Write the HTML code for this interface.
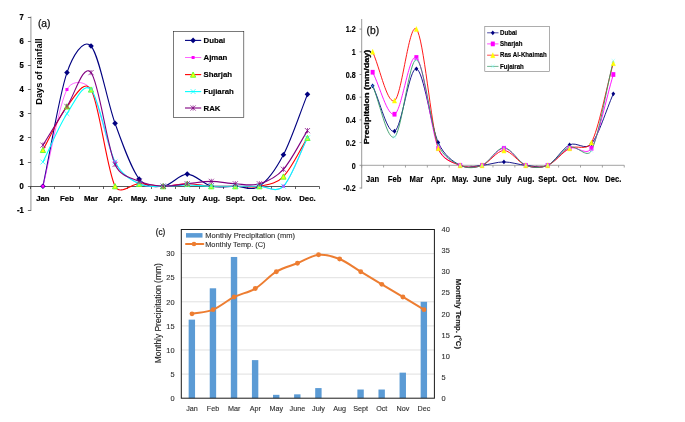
<!DOCTYPE html>
<html><head><meta charset="utf-8"><title>Rainfall charts</title>
<style>
html,body{margin:0;padding:0;background:#fff;}
body{width:685px;height:422px;overflow:hidden;font-family:"Liberation Sans",sans-serif;}
svg{display:block;will-change:transform;}
text{font-family:"Liberation Sans",sans-serif;}
.ab{font-weight:bold;font-size:8px;fill:#000;}
.bn{font-weight:bold;font-size:8px;fill:#000;stroke:#000;stroke-width:0.15px;}
.cal{fill:#111;}
.cl{font-size:7.4px;fill:#303030;stroke:#303030;stroke-width:0.12px;}
</style></head><body>
<svg width="685" height="422" viewBox="0 0 685 422">
<rect width="685" height="422" fill="#fff"/>
<g id="pa">
<line x1="30.90" y1="16.5" x2="30.90" y2="211" stroke="#adadad" stroke-width="1.3"/>
<line x1="27.90" y1="210.50" x2="30.90" y2="210.50" stroke="#444" stroke-width="0.8"/>
<text transform="translate(23.70,213.27) scale(0.93,1)" text-anchor="end" class="ab" style="font-size:8.2px;stroke:#000;stroke-width:0.25px">-1</text>
<line x1="27.90" y1="186.50" x2="30.90" y2="186.50" stroke="#444" stroke-width="0.8"/>
<text transform="translate(23.70,189.10) scale(0.93,1)" text-anchor="end" class="ab" style="font-size:8.2px;stroke:#000;stroke-width:0.25px">0</text>
<line x1="27.90" y1="162.50" x2="30.90" y2="162.50" stroke="#444" stroke-width="0.8"/>
<text transform="translate(23.70,164.93) scale(0.93,1)" text-anchor="end" class="ab" style="font-size:8.2px;stroke:#000;stroke-width:0.25px">1</text>
<line x1="27.90" y1="137.50" x2="30.90" y2="137.50" stroke="#444" stroke-width="0.8"/>
<text transform="translate(23.70,140.76) scale(0.93,1)" text-anchor="end" class="ab" style="font-size:8.2px;stroke:#000;stroke-width:0.25px">2</text>
<line x1="27.90" y1="113.50" x2="30.90" y2="113.50" stroke="#444" stroke-width="0.8"/>
<text transform="translate(23.70,116.59) scale(0.93,1)" text-anchor="end" class="ab" style="font-size:8.2px;stroke:#000;stroke-width:0.25px">3</text>
<line x1="27.90" y1="89.50" x2="30.90" y2="89.50" stroke="#444" stroke-width="0.8"/>
<text transform="translate(23.70,92.42) scale(0.93,1)" text-anchor="end" class="ab" style="font-size:8.2px;stroke:#000;stroke-width:0.25px">4</text>
<line x1="27.90" y1="65.50" x2="30.90" y2="65.50" stroke="#444" stroke-width="0.8"/>
<text transform="translate(23.70,68.25) scale(0.93,1)" text-anchor="end" class="ab" style="font-size:8.2px;stroke:#000;stroke-width:0.25px">5</text>
<line x1="27.90" y1="41.50" x2="30.90" y2="41.50" stroke="#444" stroke-width="0.8"/>
<text transform="translate(23.70,44.08) scale(0.93,1)" text-anchor="end" class="ab" style="font-size:8.2px;stroke:#000;stroke-width:0.25px">6</text>
<line x1="27.90" y1="17.50" x2="30.90" y2="17.50" stroke="#444" stroke-width="0.8"/>
<text transform="translate(23.70,19.91) scale(0.93,1)" text-anchor="end" class="ab" style="font-size:8.2px;stroke:#000;stroke-width:0.25px">7</text>
<line x1="30.90" y1="186.5" x2="319.50" y2="186.5" stroke="#222" stroke-width="0.75"/>
<line x1="30.50" y1="186.50" x2="30.50" y2="189.00" stroke="#222" stroke-width="0.7"/>
<line x1="54.50" y1="186.50" x2="54.50" y2="189.00" stroke="#222" stroke-width="0.7"/>
<line x1="79.50" y1="186.50" x2="79.50" y2="189.00" stroke="#222" stroke-width="0.7"/>
<line x1="103.50" y1="186.50" x2="103.50" y2="189.00" stroke="#222" stroke-width="0.7"/>
<line x1="127.50" y1="186.50" x2="127.50" y2="189.00" stroke="#222" stroke-width="0.7"/>
<line x1="151.50" y1="186.50" x2="151.50" y2="189.00" stroke="#222" stroke-width="0.7"/>
<line x1="175.50" y1="186.50" x2="175.50" y2="189.00" stroke="#222" stroke-width="0.7"/>
<line x1="199.50" y1="186.50" x2="199.50" y2="189.00" stroke="#222" stroke-width="0.7"/>
<line x1="223.50" y1="186.50" x2="223.50" y2="189.00" stroke="#222" stroke-width="0.7"/>
<line x1="247.50" y1="186.50" x2="247.50" y2="189.00" stroke="#222" stroke-width="0.7"/>
<line x1="271.50" y1="186.50" x2="271.50" y2="189.00" stroke="#222" stroke-width="0.7"/>
<line x1="295.50" y1="186.50" x2="295.50" y2="189.00" stroke="#222" stroke-width="0.7"/>
<line x1="319.50" y1="186.50" x2="319.50" y2="189.00" stroke="#222" stroke-width="0.7"/>
<text x="42.92" y="201.00" text-anchor="middle" class="ab" style="font-size:7.8px;stroke:#000;stroke-width:0.2px">Jan</text>
<text x="66.97" y="201.00" text-anchor="middle" class="ab" style="font-size:7.8px;stroke:#000;stroke-width:0.2px">Feb</text>
<text x="91.03" y="201.00" text-anchor="middle" class="ab" style="font-size:7.8px;stroke:#000;stroke-width:0.2px">Mar</text>
<text x="115.07" y="201.00" text-anchor="middle" class="ab" style="font-size:7.8px;stroke:#000;stroke-width:0.2px">Apr.</text>
<text x="139.12" y="201.00" text-anchor="middle" class="ab" style="font-size:7.8px;stroke:#000;stroke-width:0.2px">May.</text>
<text x="163.18" y="201.00" text-anchor="middle" class="ab" style="font-size:7.8px;stroke:#000;stroke-width:0.2px">June</text>
<text x="187.23" y="201.00" text-anchor="middle" class="ab" style="font-size:7.8px;stroke:#000;stroke-width:0.2px">July</text>
<text x="211.28" y="201.00" text-anchor="middle" class="ab" style="font-size:7.8px;stroke:#000;stroke-width:0.2px">Aug.</text>
<text x="235.33" y="201.00" text-anchor="middle" class="ab" style="font-size:7.8px;stroke:#000;stroke-width:0.2px">Sept.</text>
<text x="259.38" y="201.00" text-anchor="middle" class="ab" style="font-size:7.8px;stroke:#000;stroke-width:0.2px">Oct.</text>
<text x="283.43" y="201.00" text-anchor="middle" class="ab" style="font-size:7.8px;stroke:#000;stroke-width:0.2px">Nov.</text>
<text x="307.47" y="201.00" text-anchor="middle" class="ab" style="font-size:7.8px;stroke:#000;stroke-width:0.2px">Dec.</text>
<text x="37.9" y="26.6" style="font-size:10.3px;stroke:#111;stroke-width:0.25px" class="cal">(a)</text>
<text transform="translate(42.1,71.55) rotate(-90)" text-anchor="middle" class="ab" style="font-size:9.9px" textLength="66.5" lengthAdjust="spacingAndGlyphs">Days of rainfall</text>
<path d="M42.92,186.20 C50.94,148.33 58.96,95.97 66.97,72.60 C72.21,57.34 83.01,37.55 91.03,46.01 C99.04,54.47 107.06,101.20 115.07,123.36 C123.09,145.51 131.11,168.48 139.12,178.95 C146.00,187.93 155.16,187.01 163.18,186.20 C171.19,185.39 179.21,174.11 187.23,174.11 C195.24,174.11 203.26,184.19 211.28,186.20 C219.29,188.21 227.31,186.20 235.33,186.20 C243.34,186.20 251.36,191.44 259.38,186.20 C267.39,180.96 275.41,170.09 283.43,154.78 C291.44,139.47 299.46,114.50 307.47,94.35" fill="none" stroke="#000080" stroke-width="1.1" stroke-linejoin="round"/>
<path d="M42.92,186.20 C50.94,153.97 58.96,105.63 66.97,89.52 C71.80,79.83 85.04,80.50 91.03,89.52 C99.04,101.60 107.06,146.32 115.07,162.03 C121.71,175.03 131.11,179.75 139.12,183.78 C147.14,187.81 155.16,186.20 163.18,186.20 C171.19,186.20 179.21,183.78 187.23,183.78 C195.24,183.78 203.26,185.80 211.28,186.20 C219.29,186.60 227.31,186.20 235.33,186.20 C243.34,186.20 251.36,186.20 259.38,186.20 C267.39,186.20 275.79,193.87 283.43,186.20 C291.44,178.14 299.46,153.97 307.47,137.86" fill="none" stroke="#ff00ff" stroke-width="0.6" stroke-linejoin="round"/>
<path d="M42.92,149.94 C50.94,135.44 58.96,116.51 66.97,106.44 C74.99,96.37 84.19,78.19 91.03,89.52 C99.04,102.81 107.06,170.49 115.07,186.20 C120.02,195.89 131.11,183.78 139.12,183.78 C147.14,183.78 155.16,186.20 163.18,186.20 C171.19,186.20 179.21,183.78 187.23,183.78 C195.24,183.78 203.26,185.80 211.28,186.20 C219.29,186.60 227.31,186.20 235.33,186.20 C243.34,186.20 251.36,187.81 259.38,186.20 C267.39,184.59 275.41,184.59 283.43,176.53 C291.44,168.48 299.46,150.75 307.47,137.86" fill="none" stroke="#ff0000" stroke-width="1.1" stroke-linejoin="round"/>
<path d="M42.92,162.03 C50.94,145.92 58.96,125.77 66.97,113.69 C74.99,101.60 83.01,81.46 91.03,89.52 C99.04,97.58 107.06,146.32 115.07,162.03 C121.71,175.03 131.11,179.75 139.12,183.78 C147.14,187.81 155.16,186.00 163.18,186.20 C171.19,186.40 179.21,184.99 187.23,184.99 C195.24,184.99 203.26,186.00 211.28,186.20 C219.29,186.40 227.31,186.20 235.33,186.20 C243.34,186.20 251.36,186.20 259.38,186.20 C267.39,186.20 275.79,193.87 283.43,186.20 C291.44,178.14 299.46,153.97 307.47,137.86" fill="none" stroke="#00ffff" stroke-width="1.1" stroke-linejoin="round"/>
<path d="M42.92,145.11 C50.94,132.22 58.96,118.52 66.97,106.44 C74.99,94.35 83.01,62.93 91.03,72.60 C99.04,82.27 107.06,146.32 115.07,164.45 C120.43,176.55 131.11,177.74 139.12,181.37 C147.14,184.99 155.16,185.80 163.18,186.20 C171.19,186.60 179.21,184.59 187.23,183.78 C195.24,182.98 203.26,181.37 211.28,181.37 C219.29,181.37 227.31,183.38 235.33,183.78 C243.34,184.19 251.36,186.20 259.38,183.78 C267.39,181.37 275.41,178.14 283.43,169.28 C291.44,160.42 299.46,143.50 307.47,130.61" fill="none" stroke="#800080" stroke-width="1.1" stroke-linejoin="round"/>
<path d="M42.92,183.40 l2.80,2.80 l-2.80,2.80 l-2.80,-2.80 z" fill="#000080"/>
<path d="M66.97,69.80 l2.80,2.80 l-2.80,2.80 l-2.80,-2.80 z" fill="#000080"/>
<path d="M91.03,43.21 l2.80,2.80 l-2.80,2.80 l-2.80,-2.80 z" fill="#000080"/>
<path d="M115.07,120.56 l2.80,2.80 l-2.80,2.80 l-2.80,-2.80 z" fill="#000080"/>
<path d="M139.12,176.15 l2.80,2.80 l-2.80,2.80 l-2.80,-2.80 z" fill="#000080"/>
<path d="M163.18,183.40 l2.80,2.80 l-2.80,2.80 l-2.80,-2.80 z" fill="#000080"/>
<path d="M187.23,171.31 l2.80,2.80 l-2.80,2.80 l-2.80,-2.80 z" fill="#000080"/>
<path d="M211.28,183.40 l2.80,2.80 l-2.80,2.80 l-2.80,-2.80 z" fill="#000080"/>
<path d="M235.33,183.40 l2.80,2.80 l-2.80,2.80 l-2.80,-2.80 z" fill="#000080"/>
<path d="M259.38,183.40 l2.80,2.80 l-2.80,2.80 l-2.80,-2.80 z" fill="#000080"/>
<path d="M283.43,151.98 l2.80,2.80 l-2.80,2.80 l-2.80,-2.80 z" fill="#000080"/>
<path d="M307.47,91.55 l2.80,2.80 l-2.80,2.80 l-2.80,-2.80 z" fill="#000080"/>
<rect x="41.42" y="184.70" width="3.00" height="3.00" fill="#ff00ff"/>
<rect x="65.47" y="88.02" width="3.00" height="3.00" fill="#ff00ff"/>
<rect x="89.53" y="88.02" width="3.00" height="3.00" fill="#ff00ff"/>
<rect x="113.57" y="160.53" width="3.00" height="3.00" fill="#ff00ff"/>
<rect x="137.62" y="182.28" width="3.00" height="3.00" fill="#ff00ff"/>
<rect x="161.68" y="184.70" width="3.00" height="3.00" fill="#ff00ff"/>
<rect x="185.73" y="182.28" width="3.00" height="3.00" fill="#ff00ff"/>
<rect x="209.78" y="184.70" width="3.00" height="3.00" fill="#ff00ff"/>
<rect x="233.83" y="184.70" width="3.00" height="3.00" fill="#ff00ff"/>
<rect x="257.88" y="184.70" width="3.00" height="3.00" fill="#ff00ff"/>
<rect x="281.93" y="184.70" width="3.00" height="3.00" fill="#ff00ff"/>
<rect x="305.97" y="136.36" width="3.00" height="3.00" fill="#ff00ff"/>
<path d="M42.92,147.34 L45.52,152.54 L40.32,152.54 z" fill="#ffff00" stroke="#66ff33" stroke-width="1.0"/>
<path d="M66.97,103.84 L69.57,109.04 L64.38,109.04 z" fill="#ffff00" stroke="#66ff33" stroke-width="1.0"/>
<path d="M91.03,86.92 L93.62,92.12 L88.43,92.12 z" fill="#ffff00" stroke="#66ff33" stroke-width="1.0"/>
<path d="M115.07,183.60 L117.67,188.80 L112.47,188.80 z" fill="#ffff00" stroke="#66ff33" stroke-width="1.0"/>
<path d="M139.12,181.18 L141.72,186.38 L136.53,186.38 z" fill="#ffff00" stroke="#66ff33" stroke-width="1.0"/>
<path d="M163.18,183.60 L165.78,188.80 L160.58,188.80 z" fill="#ffff00" stroke="#66ff33" stroke-width="1.0"/>
<path d="M187.23,181.18 L189.83,186.38 L184.63,186.38 z" fill="#ffff00" stroke="#66ff33" stroke-width="1.0"/>
<path d="M211.28,183.60 L213.88,188.80 L208.68,188.80 z" fill="#ffff00" stroke="#66ff33" stroke-width="1.0"/>
<path d="M235.33,183.60 L237.93,188.80 L232.73,188.80 z" fill="#ffff00" stroke="#66ff33" stroke-width="1.0"/>
<path d="M259.38,183.60 L261.98,188.80 L256.77,188.80 z" fill="#ffff00" stroke="#66ff33" stroke-width="1.0"/>
<path d="M283.43,173.93 L286.03,179.13 L280.82,179.13 z" fill="#ffff00" stroke="#66ff33" stroke-width="1.0"/>
<path d="M307.47,135.26 L310.07,140.46 L304.87,140.46 z" fill="#ffff00" stroke="#66ff33" stroke-width="1.0"/>
<path d="M40.52,159.63 L45.32,164.43 M40.52,164.43 L45.32,159.63" stroke="#00ffff" stroke-width="0.7" fill="none"/>
<path d="M64.57,111.29 L69.38,116.09 M64.57,116.09 L69.38,111.29" stroke="#00ffff" stroke-width="0.7" fill="none"/>
<path d="M88.62,87.12 L93.43,91.92 M88.62,91.92 L93.43,87.12" stroke="#00ffff" stroke-width="0.7" fill="none"/>
<path d="M112.67,159.63 L117.47,164.43 M112.67,164.43 L117.47,159.63" stroke="#00ffff" stroke-width="0.7" fill="none"/>
<path d="M136.72,181.38 L141.53,186.18 M136.72,186.18 L141.53,181.38" stroke="#00ffff" stroke-width="0.7" fill="none"/>
<path d="M160.78,183.80 L165.58,188.60 M160.78,188.60 L165.58,183.80" stroke="#00ffff" stroke-width="0.7" fill="none"/>
<path d="M184.83,182.59 L189.63,187.39 M184.83,187.39 L189.63,182.59" stroke="#00ffff" stroke-width="0.7" fill="none"/>
<path d="M208.88,183.80 L213.68,188.60 M208.88,188.60 L213.68,183.80" stroke="#00ffff" stroke-width="0.7" fill="none"/>
<path d="M232.93,183.80 L237.73,188.60 M232.93,188.60 L237.73,183.80" stroke="#00ffff" stroke-width="0.7" fill="none"/>
<path d="M256.98,183.80 L261.77,188.60 M256.98,188.60 L261.77,183.80" stroke="#00ffff" stroke-width="0.7" fill="none"/>
<path d="M281.03,183.80 L285.82,188.60 M281.03,188.60 L285.82,183.80" stroke="#00ffff" stroke-width="0.7" fill="none"/>
<path d="M305.07,135.46 L309.87,140.26 M305.07,140.26 L309.87,135.46" stroke="#00ffff" stroke-width="0.7" fill="none"/>
<path d="M40.32,142.51 L45.52,147.71 M40.32,147.71 L45.52,142.51 M42.92,142.51 L42.92,147.71" stroke="#800080" stroke-width="0.7" fill="none"/>
<path d="M64.38,103.84 L69.57,109.04 M64.38,109.04 L69.57,103.84 M66.97,103.84 L66.97,109.04" stroke="#800080" stroke-width="0.7" fill="none"/>
<path d="M88.43,70.00 L93.62,75.20 M88.43,75.20 L93.62,70.00 M91.03,70.00 L91.03,75.20" stroke="#800080" stroke-width="0.7" fill="none"/>
<path d="M112.47,161.85 L117.67,167.05 M112.47,167.05 L117.67,161.85 M115.07,161.85 L115.07,167.05" stroke="#800080" stroke-width="0.7" fill="none"/>
<path d="M136.53,178.77 L141.72,183.97 M136.53,183.97 L141.72,178.77 M139.12,178.77 L139.12,183.97" stroke="#800080" stroke-width="0.7" fill="none"/>
<path d="M160.58,183.60 L165.78,188.80 M160.58,188.80 L165.78,183.60 M163.18,183.60 L163.18,188.80" stroke="#800080" stroke-width="0.7" fill="none"/>
<path d="M184.63,181.18 L189.83,186.38 M184.63,186.38 L189.83,181.18 M187.23,181.18 L187.23,186.38" stroke="#800080" stroke-width="0.7" fill="none"/>
<path d="M208.68,178.77 L213.88,183.97 M208.68,183.97 L213.88,178.77 M211.28,178.77 L211.28,183.97" stroke="#800080" stroke-width="0.7" fill="none"/>
<path d="M232.73,181.18 L237.93,186.38 M232.73,186.38 L237.93,181.18 M235.33,181.18 L235.33,186.38" stroke="#800080" stroke-width="0.7" fill="none"/>
<path d="M256.77,181.18 L261.98,186.38 M256.77,186.38 L261.98,181.18 M259.38,181.18 L259.38,186.38" stroke="#800080" stroke-width="0.7" fill="none"/>
<path d="M280.82,166.68 L286.03,171.88 M280.82,171.88 L286.03,166.68 M283.43,166.68 L283.43,171.88" stroke="#800080" stroke-width="0.7" fill="none"/>
<path d="M304.87,128.01 L310.07,133.21 M304.87,133.21 L310.07,128.01 M307.47,128.01 L307.47,133.21" stroke="#800080" stroke-width="0.7" fill="none"/>
<rect x="173.4" y="31.6" width="70.4" height="85.9" fill="#fff" stroke="#222" stroke-width="0.6"/>
<line x1="185" y1="40.40" x2="201.2" y2="40.40" stroke="#000080" stroke-width="1.1"/>
<path d="M193.10,37.60 l2.80,2.80 l-2.80,2.80 l-2.80,-2.80 z" fill="#000080"/>
<text x="203.5" y="43.20" class="ab" style="font-size:7.8px;stroke:#000;stroke-width:0.15px">Dubai</text>
<line x1="185" y1="57.50" x2="201.2" y2="57.50" stroke="#ff00ff" stroke-width="0.6"/>
<rect x="191.60" y="56.00" width="3.00" height="3.00" fill="#ff00ff"/>
<text x="203.5" y="60.30" class="ab" style="font-size:7.8px;stroke:#000;stroke-width:0.15px">Ajman</text>
<line x1="185" y1="74.60" x2="201.2" y2="74.60" stroke="#ff0000" stroke-width="1.1"/>
<path d="M193.10,72.00 L195.70,77.20 L190.50,77.20 z" fill="#ffff00" stroke="#66ff33" stroke-width="1.0"/>
<text x="203.5" y="77.40" class="ab" style="font-size:7.8px;stroke:#000;stroke-width:0.15px">Sharjah</text>
<line x1="185" y1="91.60" x2="201.2" y2="91.60" stroke="#00ffff" stroke-width="1.1"/>
<path d="M190.70,89.20 L195.50,94.00 M190.70,94.00 L195.50,89.20" stroke="#00ffff" stroke-width="0.7" fill="none"/>
<text x="203.5" y="94.40" class="ab" style="font-size:7.8px;stroke:#000;stroke-width:0.15px">Fujiarah</text>
<line x1="185" y1="108.00" x2="201.2" y2="108.00" stroke="#800080" stroke-width="1.1"/>
<path d="M190.50,105.40 L195.70,110.60 M190.50,110.60 L195.70,105.40 M193.10,105.40 L193.10,110.60" stroke="#800080" stroke-width="0.7" fill="none"/>
<text x="203.5" y="110.80" class="ab" style="font-size:7.8px;stroke:#000;stroke-width:0.15px">RAK</text>
</g>
<g id="pb">
<line x1="361.70" y1="19" x2="361.70" y2="188.6" stroke="#7f7f7f" stroke-width="0.8"/>
<line x1="359.50" y1="188.00" x2="361.70" y2="188.00" stroke="#7f7f7f" stroke-width="0.8"/>
<text transform="translate(355.60,191.20) scale(0.80,1)" text-anchor="end" class="bn" style="font-size:8.9px">-0.2</text>
<line x1="359.50" y1="165.30" x2="361.70" y2="165.30" stroke="#7f7f7f" stroke-width="0.8"/>
<text transform="translate(355.60,168.50) scale(0.80,1)" text-anchor="end" class="bn" style="font-size:8.9px">0</text>
<line x1="359.50" y1="142.60" x2="361.70" y2="142.60" stroke="#7f7f7f" stroke-width="0.8"/>
<text transform="translate(355.60,145.80) scale(0.80,1)" text-anchor="end" class="bn" style="font-size:8.9px">0.2</text>
<line x1="359.50" y1="119.90" x2="361.70" y2="119.90" stroke="#7f7f7f" stroke-width="0.8"/>
<text transform="translate(355.60,123.10) scale(0.80,1)" text-anchor="end" class="bn" style="font-size:8.9px">0.4</text>
<line x1="359.50" y1="97.20" x2="361.70" y2="97.20" stroke="#7f7f7f" stroke-width="0.8"/>
<text transform="translate(355.60,100.40) scale(0.80,1)" text-anchor="end" class="bn" style="font-size:8.9px">0.6</text>
<line x1="359.50" y1="74.50" x2="361.70" y2="74.50" stroke="#7f7f7f" stroke-width="0.8"/>
<text transform="translate(355.60,77.70) scale(0.80,1)" text-anchor="end" class="bn" style="font-size:8.9px">0.8</text>
<line x1="359.50" y1="51.80" x2="361.70" y2="51.80" stroke="#7f7f7f" stroke-width="0.8"/>
<text transform="translate(355.60,55.00) scale(0.80,1)" text-anchor="end" class="bn" style="font-size:8.9px">1</text>
<line x1="359.50" y1="29.10" x2="361.70" y2="29.10" stroke="#7f7f7f" stroke-width="0.8"/>
<text transform="translate(355.60,32.30) scale(0.80,1)" text-anchor="end" class="bn" style="font-size:8.9px">1.2</text>
<line x1="361.70" y1="165.30" x2="624.26" y2="165.30" stroke="#8c8c8c" stroke-width="0.8"/>
<line x1="361.70" y1="165.30" x2="361.70" y2="167.50" stroke="#8c8c8c" stroke-width="0.8"/>
<line x1="383.58" y1="165.30" x2="383.58" y2="167.50" stroke="#8c8c8c" stroke-width="0.8"/>
<line x1="405.46" y1="165.30" x2="405.46" y2="167.50" stroke="#8c8c8c" stroke-width="0.8"/>
<line x1="427.34" y1="165.30" x2="427.34" y2="167.50" stroke="#8c8c8c" stroke-width="0.8"/>
<line x1="449.22" y1="165.30" x2="449.22" y2="167.50" stroke="#8c8c8c" stroke-width="0.8"/>
<line x1="471.10" y1="165.30" x2="471.10" y2="167.50" stroke="#8c8c8c" stroke-width="0.8"/>
<line x1="492.98" y1="165.30" x2="492.98" y2="167.50" stroke="#8c8c8c" stroke-width="0.8"/>
<line x1="514.86" y1="165.30" x2="514.86" y2="167.50" stroke="#8c8c8c" stroke-width="0.8"/>
<line x1="536.74" y1="165.30" x2="536.74" y2="167.50" stroke="#8c8c8c" stroke-width="0.8"/>
<line x1="558.62" y1="165.30" x2="558.62" y2="167.50" stroke="#8c8c8c" stroke-width="0.8"/>
<line x1="580.50" y1="165.30" x2="580.50" y2="167.50" stroke="#8c8c8c" stroke-width="0.8"/>
<line x1="602.38" y1="165.30" x2="602.38" y2="167.50" stroke="#8c8c8c" stroke-width="0.8"/>
<line x1="624.26" y1="165.30" x2="624.26" y2="167.50" stroke="#8c8c8c" stroke-width="0.8"/>
<text transform="translate(372.64,182.10) scale(0.88,1)" text-anchor="middle" class="bn" style="font-size:8.7px">Jan</text>
<text transform="translate(394.52,182.10) scale(0.88,1)" text-anchor="middle" class="bn" style="font-size:8.7px">Feb</text>
<text transform="translate(416.40,182.10) scale(0.88,1)" text-anchor="middle" class="bn" style="font-size:8.7px">Mar</text>
<text transform="translate(438.28,182.10) scale(0.88,1)" text-anchor="middle" class="bn" style="font-size:8.7px">Apr.</text>
<text transform="translate(460.16,182.10) scale(0.88,1)" text-anchor="middle" class="bn" style="font-size:8.7px">May.</text>
<text transform="translate(482.04,182.10) scale(0.88,1)" text-anchor="middle" class="bn" style="font-size:8.7px">June</text>
<text transform="translate(503.92,182.10) scale(0.88,1)" text-anchor="middle" class="bn" style="font-size:8.7px">July</text>
<text transform="translate(525.80,182.10) scale(0.88,1)" text-anchor="middle" class="bn" style="font-size:8.7px">Aug.</text>
<text transform="translate(547.68,182.10) scale(0.88,1)" text-anchor="middle" class="bn" style="font-size:8.7px">Sept.</text>
<text transform="translate(569.56,182.10) scale(0.88,1)" text-anchor="middle" class="bn" style="font-size:8.7px">Oct.</text>
<text transform="translate(591.44,182.10) scale(0.88,1)" text-anchor="middle" class="bn" style="font-size:8.7px">Nov.</text>
<text transform="translate(613.32,182.10) scale(0.88,1)" text-anchor="middle" class="bn" style="font-size:8.7px">Dec.</text>
<text x="366.6" y="33.9" class="cal" style="font-size:10.3px;stroke:#111;stroke-width:0.25px">(b)</text>
<text transform="translate(368.9,97.0) rotate(-90)" text-anchor="middle" class="ab" style="font-size:6.6px;stroke:#000;stroke-width:0.3px" textLength="94.5" lengthAdjust="spacingAndGlyphs">Precipitaion (mm/day)</text>
<path d="M372.64,85.85 C379.93,100.98 387.23,134.09 394.52,131.25 C401.81,128.41 409.11,66.93 416.40,68.83 C423.69,70.72 430.99,126.52 438.28,142.60 C444.14,155.52 452.87,161.52 460.16,165.30 C467.45,169.08 474.75,165.87 482.04,165.30 C489.33,164.73 496.63,161.90 503.92,161.90 C511.21,161.90 518.51,164.73 525.80,165.30 C533.09,165.87 540.39,168.71 547.68,165.30 C554.97,161.90 562.27,148.46 569.56,144.87 C576.85,141.28 585.03,151.22 591.44,143.74 C598.73,135.22 606.03,110.44 613.32,93.80" fill="none" stroke="#000080" stroke-width="0.9" stroke-linejoin="round"/>
<path d="M372.64,72.23 C379.93,86.23 387.23,116.68 394.52,114.23 C401.81,111.77 409.11,51.80 416.40,57.48 C423.69,63.15 430.99,130.30 438.28,148.28 C442.97,159.83 452.87,162.46 460.16,165.30 C467.45,168.14 474.75,168.14 482.04,165.30 C489.33,162.46 496.63,148.28 503.92,148.28 C511.21,148.28 518.51,162.46 525.80,165.30 C533.09,168.14 540.39,168.14 547.68,165.30 C554.97,162.46 562.27,151.11 569.56,148.28 C576.85,145.44 586.42,156.74 591.44,148.28 C598.73,135.98 606.03,99.09 613.32,74.50" fill="none" stroke="#ff00ff" stroke-width="0.9" stroke-linejoin="round"/>
<path d="M372.64,51.80 C379.93,68.07 387.23,104.39 394.52,100.61 C401.81,96.82 409.11,21.16 416.40,29.10 C423.69,37.05 430.99,125.58 438.28,148.28 C442.10,160.15 452.87,162.46 460.16,165.30 C467.45,168.14 474.75,167.76 482.04,165.30 C489.33,162.84 496.63,150.55 503.92,150.55 C511.21,150.55 518.51,162.84 525.80,165.30 C533.09,167.76 540.39,168.14 547.68,165.30 C554.97,162.46 562.27,152.06 569.56,148.28 C576.85,144.49 586.79,151.65 591.44,142.60 C598.73,128.41 606.03,89.63 613.32,63.15" fill="none" stroke="#ff0000" stroke-width="0.9" stroke-linejoin="round"/>
<path d="M372.64,85.85 C379.93,102.88 387.23,141.28 394.52,136.93 C401.81,132.57 409.11,58.42 416.40,59.75 C423.69,61.07 430.99,127.28 438.28,144.87 C443.44,157.31 452.87,161.90 460.16,165.30 C467.45,168.71 474.75,168.23 482.04,165.30 C489.33,162.37 496.63,147.71 503.92,147.71 C511.21,147.71 518.51,162.37 525.80,165.30 C533.09,168.23 540.39,168.33 547.68,165.30 C554.97,162.27 562.27,149.60 569.56,147.14 C576.85,144.68 586.93,159.43 591.44,150.55 C598.73,136.17 606.03,90.77 613.32,60.88" fill="none" stroke="#339966" stroke-width="0.9" stroke-linejoin="round"/>
<path d="M372.64,83.45 l1.90,2.40 l-1.90,2.40 l-1.90,-2.40 z" fill="#000080"/>
<path d="M394.52,128.85 l1.90,2.40 l-1.90,2.40 l-1.90,-2.40 z" fill="#000080"/>
<path d="M416.40,66.43 l1.90,2.40 l-1.90,2.40 l-1.90,-2.40 z" fill="#000080"/>
<path d="M438.28,140.20 l1.90,2.40 l-1.90,2.40 l-1.90,-2.40 z" fill="#000080"/>
<path d="M460.16,162.90 l1.90,2.40 l-1.90,2.40 l-1.90,-2.40 z" fill="#000080"/>
<path d="M482.04,162.90 l1.90,2.40 l-1.90,2.40 l-1.90,-2.40 z" fill="#000080"/>
<path d="M503.92,159.50 l1.90,2.40 l-1.90,2.40 l-1.90,-2.40 z" fill="#000080"/>
<path d="M525.80,162.90 l1.90,2.40 l-1.90,2.40 l-1.90,-2.40 z" fill="#000080"/>
<path d="M547.68,162.90 l1.90,2.40 l-1.90,2.40 l-1.90,-2.40 z" fill="#000080"/>
<path d="M569.56,142.47 l1.90,2.40 l-1.90,2.40 l-1.90,-2.40 z" fill="#000080"/>
<path d="M591.44,141.34 l1.90,2.40 l-1.90,2.40 l-1.90,-2.40 z" fill="#000080"/>
<path d="M613.32,91.40 l1.90,2.40 l-1.90,2.40 l-1.90,-2.40 z" fill="#000080"/>
<rect x="370.64" y="69.88" width="4.00" height="4.70" fill="#ff00ff"/>
<rect x="392.52" y="111.88" width="4.00" height="4.70" fill="#ff00ff"/>
<rect x="414.40" y="55.13" width="4.00" height="4.70" fill="#ff00ff"/>
<rect x="436.28" y="145.93" width="4.00" height="4.70" fill="#ff00ff"/>
<rect x="458.16" y="162.95" width="4.00" height="4.70" fill="#ff00ff"/>
<rect x="480.04" y="162.95" width="4.00" height="4.70" fill="#ff00ff"/>
<rect x="501.92" y="145.93" width="4.00" height="4.70" fill="#ff00ff"/>
<rect x="523.80" y="162.95" width="4.00" height="4.70" fill="#ff00ff"/>
<rect x="545.68" y="162.95" width="4.00" height="4.70" fill="#ff00ff"/>
<rect x="567.56" y="145.93" width="4.00" height="4.70" fill="#ff00ff"/>
<rect x="589.44" y="145.93" width="4.00" height="4.70" fill="#ff00ff"/>
<rect x="611.32" y="72.15" width="4.00" height="4.70" fill="#ff00ff"/>
<path d="M372.64,49.30 L374.74,54.30 L370.54,54.30 z" fill="#ffff00" stroke="#ffff00" stroke-width="0.4"/>
<path d="M394.52,98.11 L396.62,103.11 L392.42,103.11 z" fill="#ffff00" stroke="#ffff00" stroke-width="0.4"/>
<path d="M416.40,26.60 L418.50,31.60 L414.30,31.60 z" fill="#ffff00" stroke="#ffff00" stroke-width="0.4"/>
<path d="M438.28,145.78 L440.38,150.78 L436.18,150.78 z" fill="#ffff00" stroke="#ffff00" stroke-width="0.4"/>
<path d="M460.16,162.80 L462.26,167.80 L458.06,167.80 z" fill="#ffff00" stroke="#ffff00" stroke-width="0.4"/>
<path d="M482.04,162.80 L484.14,167.80 L479.94,167.80 z" fill="#ffff00" stroke="#ffff00" stroke-width="0.4"/>
<path d="M503.92,148.05 L506.02,153.05 L501.82,153.05 z" fill="#ffff00" stroke="#ffff00" stroke-width="0.4"/>
<path d="M525.80,162.80 L527.90,167.80 L523.70,167.80 z" fill="#ffff00" stroke="#ffff00" stroke-width="0.4"/>
<path d="M547.68,162.80 L549.78,167.80 L545.58,167.80 z" fill="#ffff00" stroke="#ffff00" stroke-width="0.4"/>
<path d="M569.56,145.78 L571.66,150.78 L567.46,150.78 z" fill="#ffff00" stroke="#ffff00" stroke-width="0.4"/>
<path d="M591.44,140.10 L593.54,145.10 L589.34,145.10 z" fill="#ffff00" stroke="#ffff00" stroke-width="0.4"/>
<path d="M613.32,60.65 L615.42,65.65 L611.22,65.65 z" fill="#ffff00" stroke="#ffff00" stroke-width="0.4"/>
<path d="M370.94,83.75 L374.34,87.95 M370.94,87.95 L374.34,83.75" stroke="#7fffff" stroke-width="0.45" fill="none"/>
<path d="M392.82,134.83 L396.22,139.03 M392.82,139.03 L396.22,134.83" stroke="#7fffff" stroke-width="0.45" fill="none"/>
<path d="M414.70,57.65 L418.10,61.85 M414.70,61.85 L418.10,57.65" stroke="#7fffff" stroke-width="0.45" fill="none"/>
<path d="M436.58,142.77 L439.98,146.97 M436.58,146.97 L439.98,142.77" stroke="#7fffff" stroke-width="0.45" fill="none"/>
<path d="M458.46,163.20 L461.86,167.40 M458.46,167.40 L461.86,163.20" stroke="#7fffff" stroke-width="0.45" fill="none"/>
<path d="M480.34,163.20 L483.74,167.40 M480.34,167.40 L483.74,163.20" stroke="#7fffff" stroke-width="0.45" fill="none"/>
<path d="M502.22,145.61 L505.62,149.81 M502.22,149.81 L505.62,145.61" stroke="#7fffff" stroke-width="0.45" fill="none"/>
<path d="M524.10,163.20 L527.50,167.40 M524.10,167.40 L527.50,163.20" stroke="#7fffff" stroke-width="0.45" fill="none"/>
<path d="M545.98,163.20 L549.38,167.40 M545.98,167.40 L549.38,163.20" stroke="#7fffff" stroke-width="0.45" fill="none"/>
<path d="M567.86,145.04 L571.26,149.24 M567.86,149.24 L571.26,145.04" stroke="#7fffff" stroke-width="0.45" fill="none"/>
<path d="M589.74,148.45 L593.14,152.65 M589.74,152.65 L593.14,148.45" stroke="#7fffff" stroke-width="0.45" fill="none"/>
<path d="M611.62,58.78 L615.02,62.98 M611.62,62.98 L615.02,58.78" stroke="#7fffff" stroke-width="0.45" fill="none"/>
<rect x="484.8" y="26.3" width="64.8" height="45.0" fill="#fff" stroke="#777" stroke-width="0.6"/>
<line x1="487.1" y1="32.80" x2="498.5" y2="32.80" stroke="#000080" stroke-width="0.7"/>
<path d="M492.80,30.40 l1.90,2.40 l-1.90,2.40 l-1.90,-2.40 z" fill="#000080"/>
<text transform="translate(500,35.00) scale(0.818,1)" class="bn" style="font-size:7.5px">Dubai</text>
<line x1="487.1" y1="43.90" x2="498.5" y2="43.90" stroke="#ff00ff" stroke-width="0.7"/>
<rect x="490.80" y="41.55" width="4.00" height="4.70" fill="#ff00ff"/>
<text transform="translate(500,46.10) scale(0.818,1)" class="bn" style="font-size:7.5px">Sharjah</text>
<line x1="487.1" y1="55.20" x2="498.5" y2="55.20" stroke="#ff0000" stroke-width="0.7"/>
<path d="M492.80,52.70 L494.90,57.70 L490.70,57.70 z" fill="#ffff00" stroke="#ffff00" stroke-width="0.4"/>
<text transform="translate(500,57.40) scale(0.818,1)" class="bn" style="font-size:7.5px">Ras Al-Khaimah</text>
<line x1="487.1" y1="66.40" x2="498.5" y2="66.40" stroke="#339966" stroke-width="0.7"/>
<path d="M491.10,64.30 L494.50,68.50 M491.10,68.50 L494.50,64.30" stroke="#7fffff" stroke-width="0.45" fill="none"/>
<text transform="translate(500,68.60) scale(0.818,1)" class="bn" style="font-size:7.5px">Fujairah</text>
</g>
<g id="pc">
<line x1="181.30" y1="374.10" x2="434.40" y2="374.10" stroke="#d2d2d2" stroke-width="0.7"/>
<line x1="181.30" y1="350.00" x2="434.40" y2="350.00" stroke="#d2d2d2" stroke-width="0.7"/>
<line x1="181.30" y1="325.90" x2="434.40" y2="325.90" stroke="#d2d2d2" stroke-width="0.7"/>
<line x1="181.30" y1="301.80" x2="434.40" y2="301.80" stroke="#d2d2d2" stroke-width="0.7"/>
<line x1="181.30" y1="277.70" x2="434.40" y2="277.70" stroke="#d2d2d2" stroke-width="0.7"/>
<line x1="181.30" y1="253.60" x2="434.40" y2="253.60" stroke="#d2d2d2" stroke-width="0.7"/>
<rect x="188.65" y="319.63" width="6.4" height="78.57" fill="#5b9bd5"/>
<rect x="209.74" y="288.30" width="6.4" height="109.90" fill="#5b9bd5"/>
<rect x="230.83" y="256.97" width="6.4" height="141.23" fill="#5b9bd5"/>
<rect x="251.92" y="360.12" width="6.4" height="38.08" fill="#5b9bd5"/>
<rect x="273.01" y="394.83" width="6.4" height="3.37" fill="#5b9bd5"/>
<rect x="294.10" y="394.34" width="6.4" height="3.86" fill="#5b9bd5"/>
<rect x="315.20" y="388.08" width="6.4" height="10.12" fill="#5b9bd5"/>
<rect x="357.38" y="389.52" width="6.4" height="8.68" fill="#5b9bd5"/>
<rect x="378.47" y="389.52" width="6.4" height="8.68" fill="#5b9bd5"/>
<rect x="399.56" y="372.65" width="6.4" height="25.55" fill="#5b9bd5"/>
<rect x="420.65" y="301.80" width="6.4" height="96.40" fill="#5b9bd5"/>
<rect x="181.30" y="229.50" width="253.10" height="168.70" fill="none" stroke="#1a1a1a" stroke-width="1"/>
<text x="174.6" y="400.90" text-anchor="end" class="cl">0</text>
<text x="174.6" y="376.80" text-anchor="end" class="cl">5</text>
<text x="174.6" y="352.70" text-anchor="end" class="cl">10</text>
<text x="174.6" y="328.60" text-anchor="end" class="cl">15</text>
<text x="174.6" y="304.50" text-anchor="end" class="cl">20</text>
<text x="174.6" y="280.40" text-anchor="end" class="cl">25</text>
<text x="174.6" y="256.30" text-anchor="end" class="cl">30</text>
<text x="441.6" y="400.90" class="cl">0</text>
<text x="441.6" y="379.81" class="cl">5</text>
<text x="441.6" y="358.72" class="cl">10</text>
<text x="441.6" y="337.64" class="cl">15</text>
<text x="441.6" y="316.55" class="cl">20</text>
<text x="441.6" y="295.46" class="cl">25</text>
<text x="441.6" y="274.38" class="cl">30</text>
<text x="441.6" y="253.29" class="cl">35</text>
<text x="441.6" y="232.20" class="cl">40</text>
<text x="191.95" y="411.4" text-anchor="middle" class="cl" style="font-size:7.2px">Jan</text>
<text x="213.04" y="411.4" text-anchor="middle" class="cl" style="font-size:7.2px">Feb</text>
<text x="234.13" y="411.4" text-anchor="middle" class="cl" style="font-size:7.2px">Mar</text>
<text x="255.22" y="411.4" text-anchor="middle" class="cl" style="font-size:7.2px">Apr</text>
<text x="276.31" y="411.4" text-anchor="middle" class="cl" style="font-size:7.2px">May</text>
<text x="297.40" y="411.4" text-anchor="middle" class="cl" style="font-size:7.2px">June</text>
<text x="318.50" y="411.4" text-anchor="middle" class="cl" style="font-size:7.2px">July</text>
<text x="339.59" y="411.4" text-anchor="middle" class="cl" style="font-size:7.2px">Aug</text>
<text x="360.68" y="411.4" text-anchor="middle" class="cl" style="font-size:7.2px">Sept</text>
<text x="381.77" y="411.4" text-anchor="middle" class="cl" style="font-size:7.2px">Oct</text>
<text x="402.86" y="411.4" text-anchor="middle" class="cl" style="font-size:7.2px">Nov</text>
<text x="423.95" y="411.4" text-anchor="middle" class="cl" style="font-size:7.2px">Dec</text>
<path d="M192.00,313.85 C199.03,312.44 206.06,312.44 213.09,309.63 C220.12,306.82 227.15,300.49 234.18,296.98 C241.21,293.47 248.24,292.76 255.27,288.55 C262.30,284.33 269.33,275.89 276.36,271.68 C283.39,267.46 290.42,266.05 297.45,263.24 C304.48,260.43 311.52,255.51 318.55,254.81 C325.58,254.10 332.61,256.21 339.64,259.02 C346.67,261.83 353.70,267.46 360.73,271.68 C367.76,275.89 374.79,280.11 381.82,284.33 C388.85,288.54 395.88,292.76 402.91,296.98 C409.94,301.20 416.97,305.42 424.00,309.63" fill="none" stroke="#ed7d31" stroke-width="2.0" stroke-linejoin="round" stroke-linecap="round"/>
<circle cx="192.00" cy="313.85" r="2.45" fill="#ed7d31"/>
<circle cx="213.09" cy="309.63" r="2.45" fill="#ed7d31"/>
<circle cx="234.18" cy="296.98" r="2.45" fill="#ed7d31"/>
<circle cx="255.27" cy="288.55" r="2.45" fill="#ed7d31"/>
<circle cx="276.36" cy="271.68" r="2.45" fill="#ed7d31"/>
<circle cx="297.45" cy="263.24" r="2.45" fill="#ed7d31"/>
<circle cx="318.55" cy="254.81" r="2.45" fill="#ed7d31"/>
<circle cx="339.64" cy="259.02" r="2.45" fill="#ed7d31"/>
<circle cx="360.73" cy="271.68" r="2.45" fill="#ed7d31"/>
<circle cx="381.82" cy="284.33" r="2.45" fill="#ed7d31"/>
<circle cx="402.91" cy="296.98" r="2.45" fill="#ed7d31"/>
<circle cx="424.00" cy="309.63" r="2.45" fill="#ed7d31"/>
<rect x="186.0" y="233.1" width="16.5" height="4.5" fill="#5b9bd5"/>
<text x="205.2" y="238.2" class="cl" style="font-size:7.9px" textLength="89.8" lengthAdjust="spacingAndGlyphs">Monthly Precipitation (mm)</text>
<line x1="186" y1="244.0" x2="203.3" y2="244.0" stroke="#ed7d31" stroke-width="2.0" stroke-linecap="round"/>
<circle cx="194.0" cy="244.0" r="2.3" fill="#ed7d31"/>
<text x="205.2" y="246.9" class="cl" style="font-size:7.9px" textLength="60.4" lengthAdjust="spacingAndGlyphs">Monthly Temp. (C)</text>
<text x="155.8" y="235.0" class="cl" style="font-size:8.2px;fill:#111;stroke:#111;stroke-width:0.2px">(c)</text>
<text transform="translate(160.6,313.3) rotate(-90)" text-anchor="middle" class="cl" style="fill:#111;font-size:8.2px" textLength="100" lengthAdjust="spacingAndGlyphs">Monthly Precipitation (mm)</text>
<text transform="translate(455.6,313.9) rotate(90)" text-anchor="middle" class="cl" style="fill:#111;font-weight:bold;font-size:7.4px" textLength="70.3" lengthAdjust="spacingAndGlyphs">Monthly Temp. (°C)</text>
</g>
</svg>
</body></html>
